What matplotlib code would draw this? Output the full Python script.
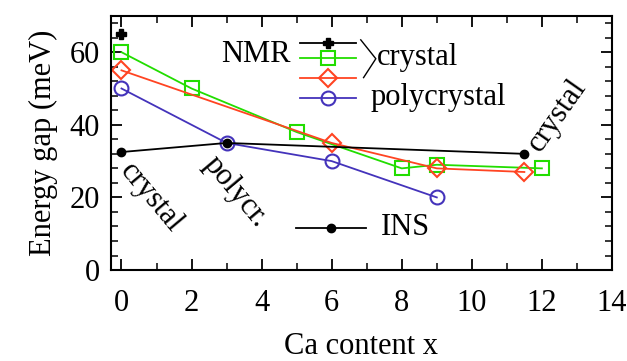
import matplotlib.pyplot as plt
import numpy as np
from matplotlib.ticker import MultipleLocator

plt.rcParams['font.family'] = ['Liberation Serif', 'DejaVu Serif']

# NMR data
cross_x = [0]
cross_y = [65]
green_x = [0, 2, 5, 8, 9, 12]
green_y = [60, 50, 38, 28, 29, 28]
red_x = [0, 6, 9, 11.5]
red_y = [55, 35, 28, 27]
blue_x = [0, 3, 6, 9]
blue_y = [50, 35, 30, 20]

# INS data
ins_x = [0, 3, 11.5]
ins_y = [32.5, 35, 32]

green = '#22dd00'
red = '#ff4422'
blue = '#4433bb'
fs = 22

fig = plt.figure(figsize=(6.27, 3.61), dpi=100)
ax = fig.add_axes([0.177, 0.252, 0.799, 0.704])

ax.plot(green_x, green_y, color=green, lw=1.3, marker='s', ms=10, mfc='none', mec=green, mew=1.5)
ax.plot(red_x, red_y, color=red, lw=1.3, marker='D', ms=9, mfc='none', mec=red, mew=1.5)
ax.plot(blue_x, blue_y, color=blue, lw=1.3, marker='o', ms=10, mfc='none', mec=blue, mew=1.5)
ax.plot(ins_x, ins_y, color='black', lw=1.3, marker='o', ms=6)
ax.plot(cross_x, cross_y, color='black', marker='P', ms=7, ls='none')

ax.set_xlim(-0.3, 14)
ax.set_ylim(0, 70)
ax.xaxis.set_major_locator(MultipleLocator(2))
ax.xaxis.set_minor_locator(MultipleLocator(1))
ax.yaxis.set_major_locator(MultipleLocator(20))
ax.yaxis.set_minor_locator(MultipleLocator(4))
ax.tick_params(which='both', direction='in', top=True, right=True, labelsize=fs)
ax.tick_params(which='major', length=8, width=1.3, pad=8)
ax.tick_params(axis='x', which='major', pad=14)
ax.tick_params(which='minor', length=5, width=1.1)
for s in ax.spines.values():
    s.set_linewidth(1.5)

ax.set_xlabel('Ca content x', fontsize=fs, labelpad=10)
ax.set_ylabel('Energy gap (meV)', fontsize=fs, labelpad=8)

# hand-made legend
ax.text(3.83, 59.3, 'NMR', fontsize=fs, ha='center', va='center')
lx = np.array([5.1, 6.7])
ax.plot(lx, [62.6, 62.6], color='black', lw=1.3)
ax.plot([5.9], [62.6], color='black', marker='P', ms=7)
ax.plot(lx, [58.5, 58.5], color=green, lw=1.3)
ax.plot([5.9], [58.5], marker='s', ms=10, mfc='none', mec=green, mew=1.5)
ax.plot(lx, [53, 53], color=red, lw=1.3)
ax.plot([5.9], [53], marker='D', ms=9, mfc='none', mec=red, mew=1.5)
ax.plot(lx, [47.4, 47.4], color=blue, lw=1.3)
ax.plot([5.9], [47.4], marker='o', ms=10, mfc='none', mec=blue, mew=1.5)
ax.plot([6.83, 7.26, 6.91], [63.4, 58.2, 53], color='black', lw=1)
ax.text(7.3, 58.5, 'crystal', fontsize=fs, ha='left', va='center')
ax.text(7.1, 47.4, 'polycrystal', fontsize=fs, ha='left', va='center')

ax.plot([4.97, 6.97], [11.6, 11.6], color='black', lw=1.3)
ax.plot([5.97], [11.6], color='black', marker='o', ms=6)
ax.text(7.4, 11.6, 'INS', fontsize=fs, ha='left', va='center')

# rotated annotations
ax.text(0.85, 20, 'crystal', fontsize=fs, rotation=-50, ha='center', va='center')
ax.text(3.25, 21.5, 'polycr.', fontsize=fs, rotation=-50, ha='center', va='center')
ax.text(12.45, 42.5, 'crystal', fontsize=fs, rotation=55, ha='center', va='center')

fig.savefig('out.png', dpi=100)
